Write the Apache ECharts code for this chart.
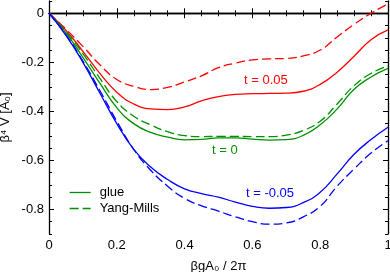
<!DOCTYPE html>
<html>
<head>
<meta charset="utf-8">
<script src="https://cdn.jsdelivr.net/npm/echarts@6/dist/echarts.min.js"></script>
<style>
html,body{margin:0;padding:0;background:#fff;}
#chart{width:390px;height:272px;}
</style>
</head>
<body>
<div id="chart"></div>
<script>
const xs = [0,0.05,0.1,0.15,0.2,0.25,0.3,0.35,0.4,0.45,0.5,0.55,0.6,0.65,0.7,0.75,0.8,0.85,0.9,0.95,1];
const glueTp05 = [0,-0.07,-0.155,-0.245,-0.322,-0.37,-0.39,-0.393,-0.382,-0.357,-0.34,-0.331,-0.328,-0.327,-0.326,-0.318,-0.29,-0.24,-0.175,-0.108,-0.068];
const ymTp05   = [0,-0.065,-0.135,-0.21,-0.27,-0.298,-0.311,-0.302,-0.28,-0.255,-0.222,-0.203,-0.19,-0.186,-0.184,-0.174,-0.15,-0.097,-0.045,0.0,0.038];
const glueT0   = [0,-0.08,-0.18,-0.285,-0.385,-0.45,-0.486,-0.505,-0.516,-0.514,-0.508,-0.508,-0.513,-0.517,-0.515,-0.498,-0.455,-0.39,-0.31,-0.26,-0.225];
const ymT0     = [0,-0.075,-0.165,-0.265,-0.36,-0.42,-0.455,-0.483,-0.499,-0.503,-0.502,-0.502,-0.503,-0.503,-0.497,-0.478,-0.44,-0.37,-0.295,-0.245,-0.215];
const glueTm05 = [0,-0.09,-0.2,-0.325,-0.45,-0.555,-0.627,-0.678,-0.716,-0.735,-0.75,-0.77,-0.787,-0.795,-0.792,-0.772,-0.73,-0.655,-0.575,-0.515,-0.465];
const ymTm05   = [0,-0.088,-0.195,-0.315,-0.44,-0.555,-0.64,-0.705,-0.755,-0.785,-0.807,-0.83,-0.85,-0.86,-0.855,-0.83,-0.787,-0.705,-0.635,-0.57,-0.52];
const yTickLabels = [-0.8,-0.6,-0.4,-0.2,0];
const curveLabels = [
  {text:'t = 0.05', x:0.64, y:-0.272, color:'#ff0000'},
  {text:'t = 0', x:0.519, y:-0.56, color:'#009000'},
  {text:'t = -0.05', x:0.652, y:-0.734, color:'#0000ff'}
];
const RED='#ff0000', GREEN='#009000', BLUE='#0000ff';
const FONT='Liberation Sans';
const DASH=[9,4];

function pts(ys){ return xs.map((x,i)=>[x,ys[i]]); }
function line(name, ys, color, dashed){
  return {
    name, type:'line', data:pts(ys), xAxisIndex:0, yAxisIndex:0,
    showSymbol:false, symbol:'none', smooth:0.5,
    lineStyle:{color, width:1.3, type: dashed ? DASH : 'solid'},
    itemStyle:{color}, silent:true, animation:false, z:3
  };
}

const chart = echarts.init(document.getElementById('chart'), null, {renderer:'canvas'});
const axLine = {show:true, lineStyle:{color:'#000', width:1.3}};
const xCommon = {type:'value', min:0, max:1, interval:0.2, splitLine:{show:false}};
const yBase = {type:'value', min:-0.9, max:0.05, interval:0.05, splitLine:{show:false}};

chart.setOption({
  animation:false,
  backgroundColor:'#fff',
  textStyle:{fontFamily:FONT},
  grid:{left:49, right:2, top:1, bottom:38, containLabel:false, outerBoundsMode:'none'},
  xAxis:[
    Object.assign({}, xCommon, {
      position:'bottom', axisLine:axLine,
      axisTick:{show:true, inside:true, length:5, lineStyle:{color:'#000', width:1}},
      minorTick:{show:true, splitNumber:4, length:3, lineStyle:{color:'#000', width:1}},
      axisLabel:{show:true, color:'#000', fontSize:13, margin:5, fontFamily:FONT},
      name:'βgA₀ / 2π', nameLocation:'middle', nameGap:26,
      nameTextStyle:{color:'#000', fontSize:13, fontFamily:FONT}
    }),
    Object.assign({}, xCommon, {
      position:'top', axisLine:axLine,
      axisTick:{show:true, inside:true, length:5, lineStyle:{color:'#000', width:1}},
      minorTick:{show:true, splitNumber:4, length:3, lineStyle:{color:'#000', width:1}},
      axisLabel:{show:false}
    })
  ],
  yAxis:[
    Object.assign({}, yBase, {
      position:'left', axisLine:axLine,
      axisTick:{show:true, inside:true, length:3, lineStyle:{color:'#000', width:1}},
      axisLabel:{show:false},
      name:'β⁴ V [A₀]', nameLocation:'middle', nameGap:37,
      nameTextStyle:{color:'#000', fontSize:13, fontFamily:FONT}
    }),
    Object.assign({}, yBase, {
      position:'left', axisLine:{show:false},
      axisTick:{show:true, inside:true, length:5, customValues:yTickLabels, lineStyle:{color:'#000', width:1}},
      axisLabel:{show:true, customValues:yTickLabels, color:'#000', fontSize:13, margin:5, fontFamily:FONT}
    }),
    Object.assign({}, yBase, {
      position:'right', axisLine:axLine,
      axisTick:{show:true, inside:true, length:3, lineStyle:{color:'#000', width:1}},
      axisLabel:{show:false}
    }),
    Object.assign({}, yBase, {
      position:'right', axisLine:{show:false},
      axisTick:{show:true, inside:true, length:5, customValues:yTickLabels, lineStyle:{color:'#000', width:1}},
      axisLabel:{show:false}
    })
  ],
  legend:{
    orient:'vertical', left:64, top:181, itemWidth:21, itemHeight:14, itemGap:3,
    data:[
      {name:'glue', itemStyle:{opacity:0}, lineStyle:{type:'solid', width:1.3, color:GREEN}},
      {name:'Yang-Mills', itemStyle:{opacity:0}, lineStyle:{type:DASH, width:1.3, color:GREEN}}
    ],
    selectedMode:false,
    itemStyle:{opacity:0},
    textStyle:{color:'#000', fontSize:13, fontFamily:FONT, padding:[0,0,0,4]}
  },
  series:[
    line('glue t=0.05', glueTp05, RED, false),
    line('YM t=0.05', ymTp05, RED, true),
    line('glue', glueT0, GREEN, false),
    line('Yang-Mills', ymT0, GREEN, true),
    line('glue t=-0.05', glueTm05, BLUE, false),
    line('YM t=-0.05', ymTm05, BLUE, true)
  ]
});

const g = curveLabels.map(l=>{
  const p = chart.convertToPixel({xAxisIndex:0, yAxisIndex:0}, [l.x, l.y]);
  return {type:'text', x:p[0], y:p[1], style:{text:l.text, fill:l.color, font:'13px "'+FONT+'"', align:'center', verticalAlign:'middle'}, z:10};
});
chart.setOption({graphic:g});
</script>
</body>
</html>
